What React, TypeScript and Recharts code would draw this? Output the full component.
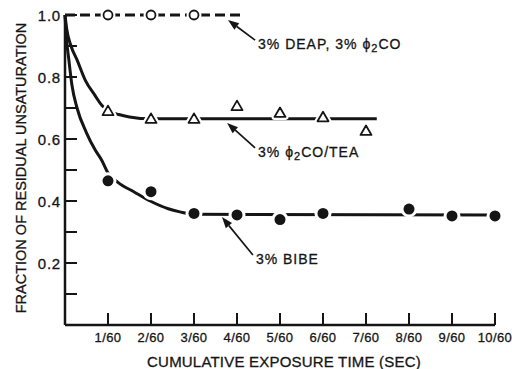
import React from 'react';
import { ComposedChart, Line, Scatter, XAxis, YAxis, ReferenceLine } from 'recharts';

// exposure time is counted in sixtieths of a second
const xTicks = [1, 2, 3, 4, 5, 6, 7, 8, 9, 10];
const xTickLabels = ['1/60', '2/60', '3/60', '4/60', '5/60', '6/60', '7/60', '8/60', '9/60', '10/60'];
const yTicks = [0.1, 0.2, 0.3, 0.4, 0.5, 0.6, 0.7, 0.8, 0.9, 1.0];
const yTickLabels = ['', '0.2', '', '0.4', '', '0.6', '', '0.8', '', '1.0'];

// 3% DEAP, 3% phi2CO
const deapTimes = [1, 2, 3];
const deapValues = [1.0, 1.0, 1.0];
const deapLineTimes = [0, 1, 2, 3, 4.14];
const deapLineValues = [1.0, 1.0, 1.0, 1.0, 1.0];

// 3% phi2CO/TEA
const teaTimes = [1, 2, 3, 4, 5, 6, 7];
const teaValues = [0.69, 0.665, 0.665, 0.706, 0.684, 0.67, 0.626];
const teaCurveTimes = [0, 0.04, 0.14, 0.28, 0.47, 0.7, 0.86, 1.0, 1.25, 1.5, 2.0, 7.25];
const teaCurveValues = [1.0, 0.955, 0.9, 0.855, 0.79, 0.74, 0.708, 0.692, 0.679, 0.671, 0.665, 0.665];

// 3% BIBE
const bibeTimes = [1, 2, 3, 4, 5, 6, 8, 9, 10];
const bibeValues = [0.465, 0.43, 0.36, 0.355, 0.34, 0.36, 0.374, 0.352, 0.352];
const bibeCurveTimes = [0, 0.03, 0.09, 0.16, 0.28, 0.5, 0.7, 0.86, 1.0, 1.23, 1.6, 1.98, 2.4, 2.67, 3.0, 10];
const bibeCurveValues = [1.0, 0.93, 0.855, 0.775, 0.7, 0.62, 0.565, 0.53, 0.49, 0.46, 0.43, 0.4, 0.375, 0.365, 0.357, 0.355];

const ink = '#151515';
const font = '"Liberation Sans", Arial, Helvetica, sans-serif';

const zip = (xs: number[], ys: number[]) => xs.map((x, i) => ({ x, y: ys[i] }));

const deapPoints = zip(deapTimes, deapValues);
const deapLine = zip(deapLineTimes, deapLineValues);
const teaPoints = zip(teaTimes, teaValues);
const teaCurve = zip(teaCurveTimes, teaCurveValues);
const bibePoints = zip(bibeTimes, bibeValues);
const bibeCurve = zip(bibeCurveTimes, bibeCurveValues);

// arrows run from the label (tail) to the curve (tip), in data units
const callouts = [
  { key: 'deap', from: { x: 4.42, y: 0.919 }, to: { x: 3.79, y: 0.984 } },
  { key: 'tea', from: { x: 4.42, y: 0.571 }, to: { x: 3.77, y: 0.652 } },
  { key: 'bibe', from: { x: 4.37, y: 0.226 }, to: { x: 3.65, y: 0.348 } },
];

const textStyle = { fontFamily: font, fill: ink, stroke: ink, strokeWidth: 0.3 };

const Phi2 = () => (
  <>
    <tspan>ϕ</tspan>
    <tspan dy={3} fontSize={11}>2</tspan>
    <tspan dy={-3}>CO</tspan>
  </>
);

const calloutText: Record<string, React.ReactNode> = {
  deap: (
    <>
      <tspan>3% DEAP, 3% </tspan>
      <Phi2 />
    </>
  ),
  tea: (
    <>
      <tspan>3% </tspan>
      <Phi2 />
      <tspan>/TEA</tspan>
    </>
  ),
  bibe: <tspan>3% BIBE</tspan>,
};

const Arrow = (props: any) => {
  const { x1, y1, x2, y2, label } = props;
  const dx = x2 - x1;
  const dy = y2 - y1;
  const len = Math.hypot(dx, dy);
  const ux = dx / len;
  const uy = dy / len;
  const head = 11;
  const half = 4;
  const bx = x2 - ux * head;
  const by = y2 - uy * head;
  return (
    <g>
      <line x1={x1} y1={y1} x2={bx} y2={by} stroke={ink} strokeWidth={1.7} />
      <polygon
        points={`${x2},${y2} ${bx - uy * half},${by + ux * half} ${bx + uy * half},${by - ux * half}`}
        fill={ink}
      />
      <text x={x1 + 3} y={y1 + 9} fontSize={14} letterSpacing={1} style={textStyle}>
        {calloutText[label]}
      </text>
    </g>
  );
};

const XTick = (props: any) => {
  const { x, y, payload } = props;
  const label = xTickLabels[xTicks.indexOf(payload.value)];
  return (
    <g>
      <line x1={x} y1={y} x2={x} y2={y - 12} stroke={ink} strokeWidth={2} />
      <text x={x} y={y + 17} textAnchor="middle" fontSize={13} letterSpacing={0.4} style={textStyle}>
        {label}
      </text>
    </g>
  );
};

const YTick = (props: any) => {
  const { x, y, payload } = props;
  const idx = yTicks.findIndex((t) => Math.abs(t - payload.value) < 1e-6);
  const label = yTickLabels[idx];
  return (
    <g>
      <line x1={x} y1={y} x2={x + 12} y2={y} stroke={ink} strokeWidth={2} />
      {label && (
        <text x={x - 4} y={y + 5.5} textAnchor="end" fontSize={15} letterSpacing={0.8} style={textStyle}>
          {label}
        </text>
      )}
    </g>
  );
};

const OpenCircle = (props: any) => (
  <g>
    <circle cx={props.cx} cy={props.cy} r={7.5} fill="#fff" />
    <circle cx={props.cx} cy={props.cy} r={4.5} fill="#fff" stroke={ink} strokeWidth={1.8} />
  </g>
);

const OpenTriangle = (props: any) => {
  const { cx, cy } = props;
  const pts = `${cx},${cy - 5.5} ${cx + 5.5},${cy + 4} ${cx - 5.5},${cy + 4}`;
  return (
    <g>
      <polygon points={pts} fill="#fff" stroke="#fff" strokeWidth={6} strokeLinejoin="round" />
      <polygon points={pts} fill="#fff" stroke={ink} strokeWidth={1.8} strokeLinejoin="round" />
    </g>
  );
};

const FilledDot = (props: any) => (
  <g>
    <circle cx={props.cx} cy={props.cy} r={8.5} fill="#fff" />
    <circle cx={props.cx} cy={props.cy} r={5.5} fill={ink} />
  </g>
);

export default function App() {
  return (
    <div style={{ position: 'absolute', left: 0, top: 0, width: 512, height: 369, background: '#fff' }}>
      <ComposedChart width={512} height={369} margin={{ top: 15, right: 17, bottom: 0, left: 0 }}>
        <XAxis
          dataKey="x"
          type="number"
          domain={[0, 10]}
          ticks={xTicks}
          height={44}
          tickSize={0}
          tickMargin={0}
          tickLine={false}
          tick={<XTick />}
          axisLine={{ stroke: ink, strokeWidth: 2.5 }}
        />
        <YAxis
          dataKey="y"
          type="number"
          domain={[0, 1]}
          ticks={yTicks}
          width={65}
          tickSize={0}
          tickMargin={0}
          tickLine={false}
          tick={<YTick />}
          axisLine={{ stroke: ink, strokeWidth: 2.5 }}
        />

        <Line
          data={deapLine}
          dataKey="y"
          type="linear"
          stroke={ink}
          strokeWidth={3}
          strokeDasharray="10 5"
          dot={false}
          activeDot={false}
          isAnimationActive={false}
        />
        <Line
          data={teaCurve}
          dataKey="y"
          type="monotone"
          stroke={ink}
          strokeWidth={3}
          dot={false}
          activeDot={false}
          isAnimationActive={false}
        />
        <Line
          data={bibeCurve}
          dataKey="y"
          type="monotone"
          stroke={ink}
          strokeWidth={3}
          dot={false}
          activeDot={false}
          isAnimationActive={false}
        />

        <Scatter data={deapPoints} dataKey="y" shape={<OpenCircle />} isAnimationActive={false} />
        <Scatter data={teaPoints} dataKey="y" shape={<OpenTriangle />} isAnimationActive={false} />
        <Scatter data={bibePoints} dataKey="y" shape={<FilledDot />} isAnimationActive={false} />

        {callouts.map((c) => (
          <ReferenceLine
            key={c.key}
            segment={[c.from, c.to]}
            shape={(p: any) => <Arrow {...p} label={c.key} />}
          />
        ))}

        <text
          x={284}
          y={367}
          textAnchor="middle"
          fontSize={15}
          letterSpacing={0.2}
          style={textStyle}
        >
          CUMULATIVE EXPOSURE TIME (SEC)
        </text>
        <text
          x={26}
          y={168}
          textAnchor="middle"
          fontSize={14.5}
          transform="rotate(-90 26 168)"
          style={textStyle}
        >
          FRACTION OF RESIDUAL UNSATURATION
        </text>
      </ComposedChart>
    </div>
  );
}
